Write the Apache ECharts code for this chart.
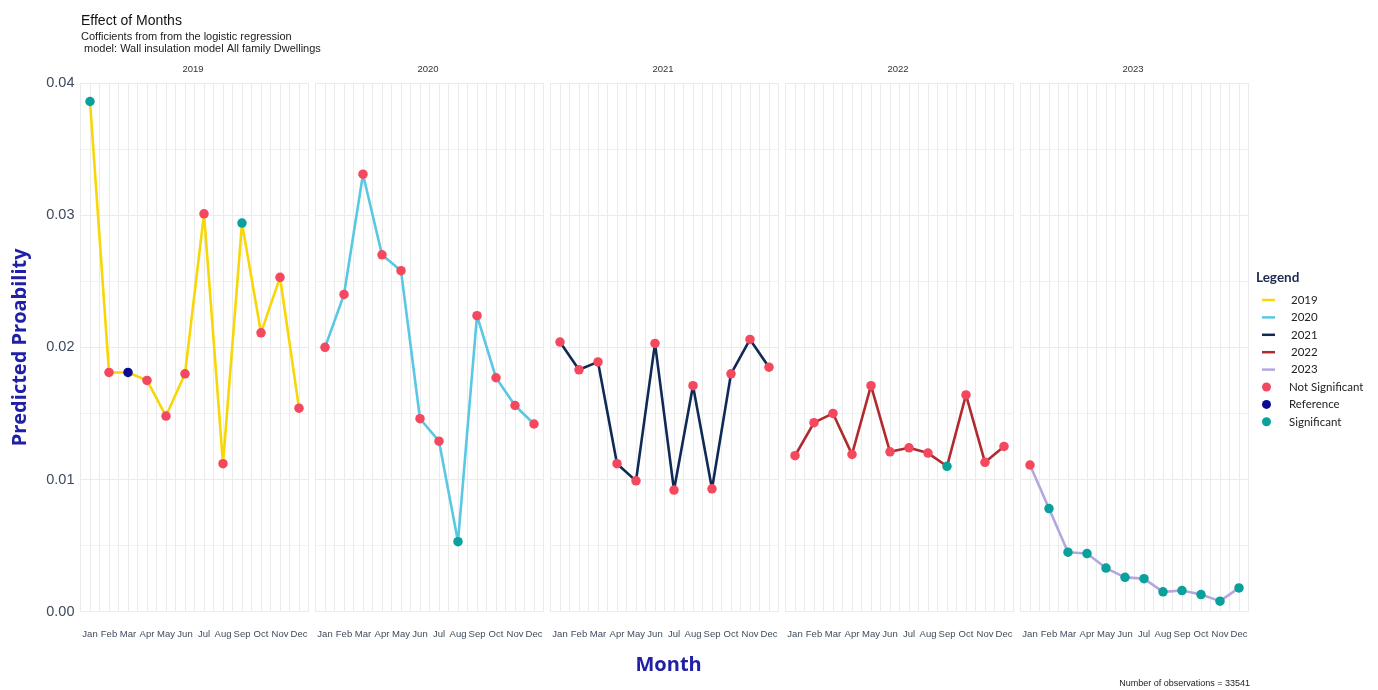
<!DOCTYPE html>
<html>
<head>
<meta charset="utf-8">
<title>Effect of Months</title>
<script src="https://cdn.jsdelivr.net/npm/echarts@6/dist/echarts.min.js"></script>
<style>
  html, body { margin: 0; padding: 0; background: #ffffff; }
  #chart { width: 1378px; height: 690px; }
</style>
</head>
<body>
<div id="chart"></div>
<script>
// Month tick labels shared by every panel
const months = ['Jan', 'Feb', 'Mar', 'Apr', 'May', 'Jun', 'Jul', 'Aug', 'Sep', 'Oct', 'Nov', 'Dec'];
const years = ['2019', '2020', '2021', '2022', '2023'];

// Predicted probability per month, one array per year
const prob2019 = [0.0386, 0.0181, 0.0181, 0.0175, 0.0148, 0.0180, 0.0301, 0.0112, 0.0294, 0.0211, 0.0253, 0.0154];
const prob2020 = [0.0200, 0.0240, 0.0331, 0.0270, 0.0258, 0.0146, 0.0129, 0.0053, 0.0224, 0.0177, 0.0156, 0.0142];
const prob2021 = [0.0204, 0.0183, 0.0189, 0.0112, 0.0099, 0.0203, 0.0092, 0.0171, 0.0093, 0.0180, 0.0206, 0.0185];
const prob2022 = [0.0118, 0.0143, 0.0150, 0.0119, 0.0171, 0.0121, 0.0124, 0.0120, 0.0110, 0.0164, 0.0113, 0.0125];
const prob2023 = [0.0111, 0.0078, 0.0045, 0.0044, 0.0033, 0.0026, 0.0025, 0.0015, 0.0016, 0.0013, 0.0008, 0.0018];

// Significance of each month's coefficient: N = not significant, R = reference, S = significant
const sig2019 = ['S', 'N', 'R', 'N', 'N', 'N', 'N', 'N', 'S', 'N', 'N', 'N'];
const sig2020 = ['N', 'N', 'N', 'N', 'N', 'N', 'N', 'S', 'N', 'N', 'N', 'N'];
const sig2021 = ['N', 'N', 'N', 'N', 'N', 'N', 'N', 'N', 'N', 'N', 'N', 'N'];
const sig2022 = ['N', 'N', 'N', 'N', 'N', 'N', 'N', 'N', 'S', 'N', 'N', 'N'];
const sig2023 = ['N', 'S', 'S', 'S', 'S', 'S', 'S', 'S', 'S', 'S', 'S', 'S'];

const yTicks = [0, 0.01, 0.02, 0.03, 0.04];

const probByYear = [prob2019, prob2020, prob2021, prob2022, prob2023];
const sigByYear = [sig2019, sig2020, sig2021, sig2022, sig2023];

const lineColors = ['#f7d708', '#5ac8e2', '#0f2a55', '#b02a2e', '#b4a7e0'];
const pointGroups = [
  { code: 'N', name: 'Not Significant', color: '#f4485f' },
  { code: 'R', name: 'Reference', color: '#0c0c92' },
  { code: 'S', name: 'Significant', color: '#0aa19c' }
];

// Panel layout
const panelLeft0 = 80.5;
const panelStep = 235;
const panelWidth = 228;
const panelTop = 83;
const panelBottom = 78.3;

const axisFont = 'Liberation Sans, Arial, sans-serif';
const gridColor = '#ebebeb';
const tickColor = '#3e4b5e';

const grids = [], xAxes = [], yAxes = [], series = [], graphics = [];

years.forEach((yr, i) => {
  const left = panelLeft0 + i * panelStep;
  grids.push({ left: left, top: panelTop, width: panelWidth, bottom: panelBottom, containLabel: false });

  xAxes.push({
    type: 'value', gridIndex: i, min: 0.5, max: 12.5, interval: 0.5,
    axisLine: { show: false }, axisTick: { show: false },
    splitLine: { show: true, lineStyle: { color: gridColor, width: 1 } },
    axisLabel: {
      margin: 18, fontSize: 9.5, color: tickColor, fontFamily: axisFont,
      formatter: v => (Math.abs(v - Math.round(v)) < 1e-6 && v >= 1 && v <= 12) ? months[Math.round(v) - 1] : ''
    }
  });

  yAxes.push({
    type: 'value', gridIndex: i, min: 0, max: 0.04, interval: 0.01,
    axisLine: { show: false }, axisTick: { show: false },
    splitLine: { show: true, lineStyle: { color: gridColor, width: 1 } },
    minorTick: { show: false, splitNumber: 2 },
    minorSplitLine: { show: true, lineStyle: { color: '#f1f1f1', width: 1 } },
    axisLabel: {
      show: i === 0, margin: 6, fontSize: 14.5, color: tickColor, fontFamily: axisFont,
      formatter: v => {
        const hit = yTicks.find(t => Math.abs(t - v) < 1e-9);
        return hit === undefined ? '' : hit.toFixed(2);
      }
    },
    name: i === 0 ? 'Predicted Proability' : '',
    nameLocation: 'middle', nameRotate: 90, nameGap: 50,
    nameTextStyle: { fontSize: 20, fontWeight: 'bold', color: '#2020a6', fontFamily: 'Open Sans, sans-serif' }
  });

  const probs = probByYear[i];
  const sigs = sigByYear[i];

  series.push({
    name: yr, type: 'line', xAxisIndex: i, yAxisIndex: i,
    data: probs.map((p, m) => [m + 1, p]),
    symbol: 'none', lineStyle: { color: lineColors[i], width: 2.6 },
    itemStyle: { color: lineColors[i] }, z: 2, silent: true
  });

  pointGroups.forEach(g => {
    series.push({
      name: g.name, type: 'scatter', xAxisIndex: i, yAxisIndex: i,
      data: probs.map((p, m) => [m + 1, p]).filter((d, m) => sigs[m] === g.code),
      symbol: 'circle', symbolSize: 9.5,
      itemStyle: { color: g.color, opacity: 1 }, z: 3
    });
  });

  // facet strip label
  graphics.push({
    type: 'text', left: left + panelWidth / 2 - 12, top: 64,
    style: { text: yr, fontSize: 9.5, fill: '#333333', fontFamily: axisFont }
  });
});

const plotCenter = (panelLeft0 + (panelLeft0 + 4 * panelStep + panelWidth)) / 2;

graphics.push({
  type: 'text', left: plotCenter - 29, top: 655,
  style: { text: 'Month', fontSize: 20, fontWeight: 'bold', fill: '#2020a6', fontFamily: 'Open Sans, sans-serif' }
});
graphics.push({
  type: 'text', right: 1378 - 1250, top: 679,
  style: { text: 'Number of observations = 33541', fontSize: 9, fill: '#222222', fontFamily: axisFont }
});
graphics.push({
  type: 'text', left: 1256, top: 271,
  style: { text: 'Legend', fontSize: 13.5, fontWeight: 'bold', fill: '#1d2b4e', fontFamily: 'Lato, sans-serif' }
});

const chart = echarts.init(document.getElementById('chart'), null, { renderer: 'canvas' });
chart.setOption({
  backgroundColor: '#ffffff',
  animation: false,
  title: {
    text: 'Effect of Months',
    subtext: 'Cofficients from from the logistic regression\n model: Wall insulation model All family Dwellings',
    left: 76, top: 9, itemGap: 3,
    textStyle: { fontSize: 14, fontWeight: 'normal', color: '#111111', fontFamily: axisFont },
    subtextStyle: { fontSize: 11, color: '#222222', fontFamily: axisFont, lineHeight: 12 }
  },
  legend: [
    {
      data: years, orient: 'vertical', left: 1257, top: 289,
      icon: 'rect', itemWidth: 13, itemHeight: 2.5, itemGap: 5.4,
      textStyle: { fontSize: 11.5, color: '#222222', fontFamily: 'Lato, sans-serif', padding: [0, 0, 0, 11] },
      selectedMode: false
    },
    {
      data: pointGroups.map(g => g.name), orient: 'vertical', left: 1257, top: 376,
      icon: 'circle', itemWidth: 13, itemHeight: 9, itemGap: 5.4,
      textStyle: { fontSize: 11.5, color: '#222222', fontFamily: 'Lato, sans-serif', padding: [0, 0, 0, 11] },
      selectedMode: false
    }
  ],
  grid: grids,
  xAxis: xAxes,
  yAxis: yAxes,
  series: series,
  graphic: graphics
});
</script>
</body>
</html>
